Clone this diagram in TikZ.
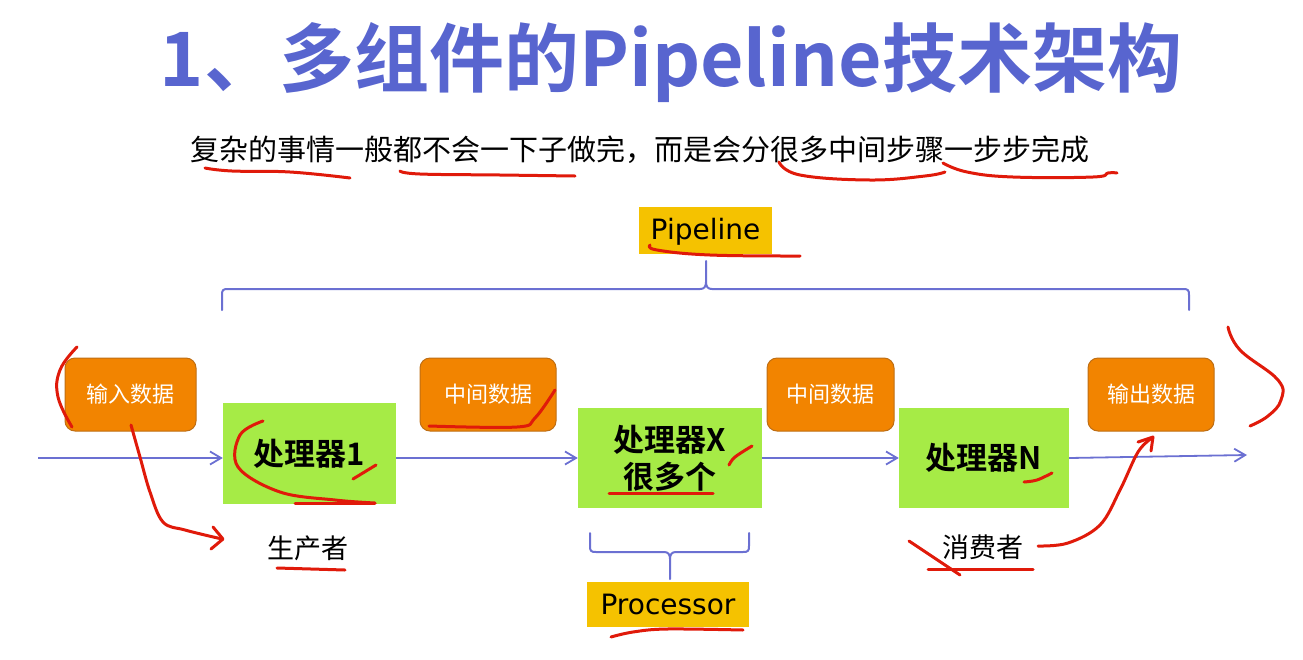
\documentclass[tikz,border=0pt]{standalone}
\usepackage{fontspec}
\setmainfont{Noto Sans CJK SC}[BoldFont={Noto Sans CJK SC Bold}]
\newfontfamily\labelfont{DejaVu Sans}
\usetikzlibrary{arrows.meta,calc}

\definecolor{titleblue}{HTML}{5865CF}
\definecolor{flowblue}{HTML}{6B70D2}
\definecolor{dataorange}{HTML}{F28400}
\definecolor{databorder}{HTML}{BE6E14}
\definecolor{procgreen}{HTML}{A6EB46}
\definecolor{tagyellow}{HTML}{F5C200}
\definecolor{penred}{HTML}{E01A0A}

\tikzset{
  databox/.style={draw=databorder, line width=1pt, fill=dataorange, rounded corners=10pt,
    text=white, font=\fontsize{22}{26}\selectfont, inner sep=0pt},
  procbox/.style={fill=procgreen, draw=none, inner sep=0pt, align=center,
    font=\fontsize{31}{37}\selectfont\bfseries},
  tagbox/.style={fill=tagyellow, draw=none, inner sep=0pt,
    font=\labelfont\fontsize{28}{32}\selectfont},
  rolelabel/.style={font=\fontsize{27}{30}\selectfont, inner sep=0pt},
  flow/.style={draw=flowblue, line width=1.8pt, -{Straight Barb[length=11pt,width=13pt,line width=1.8pt]}},
  brace/.style={draw=flowblue, line width=2pt, line cap=round},
  ink/.style={draw=penred, line width=3pt, line cap=round, line join=round},
}

\begin{document}
\begin{tikzpicture}[x=1pt, y=-1pt]
\useasboundingbox (0,0) rectangle (1303,659);

% heading and caption
\node[text=titleblue, font=\fontsize{75}{80}\selectfont\bfseries, inner sep=0pt] (title) at (671,63) {1、多组件的Pipeline技术架构};
\node[font=\fontsize{29}{32}\selectfont, inner sep=0pt] (caption) at (640,150) {复杂的事情一般都不会一下子做完，而是会分很多中间步骤一步步完成};

% labels above and below the chain
\node[tagbox, minimum width=133pt, minimum height=47pt, text depth=5pt] (pipeline) at (705.5,230.5) {\raisebox{0pt}[22pt][0pt]{Pipeline}};
\node[tagbox, minimum width=162pt, minimum height=45pt] (processor) at (668,604.5) {Processor};

% data boxes
\node[databox, minimum width=131pt, minimum height=73pt] (in)   at (130.5,394.5) {输入数据};
\node[databox, minimum width=136pt, minimum height=73pt] (mid1) at (488,394.5) {中间数据};
\node[databox, minimum width=127pt, minimum height=73pt] (mid2) at (830.5,394.5) {中间数据};
\node[databox, minimum width=126pt, minimum height=73pt] (out)  at (1151,394.5) {输出数据};

% processors
\node[procbox, minimum width=173pt, minimum height=101pt] (p1) at (309.5,453.5) {处理器1};
\node[procbox, minimum width=184pt, minimum height=100pt] (px) at (670,458) {处理器X\\很多个};
\node[procbox, minimum width=170pt, minimum height=100pt] (pn) at (984,458) {处理器N};

\node[rolelabel] (producer) at (308,548) {生产者};
\node[rolelabel] (consumer) at (983,547) {消费者};

% data flow
\coordinate (src) at (38,458);
\coordinate (sink) at (1247,455);
\draw[flow] (src) -- (src -| p1.west);
\draw[flow] (p1.east |- src) -- (px.west |- src);
\draw[flow] (px.east |- src) -- (pn.west |- src);
\draw[flow] (pn.east) -- (sink);

% brace spanning the whole pipeline
\draw[brace] (222,310) -- (222,295) .. controls (222,290) and (223,289) .. (228,289) -- (700,289)
  .. controls (704,289) and (706,287) .. (706,282) -- (706,261);
\draw[brace] (706,282) .. controls (706,287) and (708,289) .. (712,289) -- (1183,289)
  .. controls (1188,289) and (1189,290) .. (1189,295) -- (1189,310);

% brace under the middle processor
\draw[brace] (590,533) -- (590,546) .. controls (590,551) and (591,552) .. (596,552) -- (664,552)
  .. controls (668,552) and (670,554) .. (670,559) -- (670,579);
\draw[brace] (670,559) .. controls (670,554) and (672,552) .. (676,552) -- (743,552)
  .. controls (748,552) and (749,551) .. (749,546) -- (749,533);

% hand-drawn marks
\draw[ink] plot[smooth, tension=0.7] coordinates {(205,168) (232,171) (290,172) (350,178)};
\draw[ink] plot[smooth, tension=0.7] coordinates {(400,171) (420,174) (500,175) (575,176)};
\draw[ink] plot[smooth, tension=0.7] coordinates {(779,162) (800,175) (870,180) (925,176) (945,172)};
\draw[ink] plot[smooth, tension=0.7] coordinates {(943,163) (967,172) (1013,177) (1093,177) (1108,173) (1117,173)};
\draw[ink] plot[smooth, tension=0.7] coordinates {(650,245) (657,250) (710,255) (800,256)};

\draw[ink] plot[smooth, tension=0.7] coordinates {(77,347) (60,370) (58,397) (72,427)};
\draw[ink] plot[smooth, tension=0.6] coordinates {(131,425) (140,457) (150,492) (163,522) (185,530) (222,539)};
\draw[ink] (213,527) -- (223,539) -- (211,549);

\draw[ink] plot[smooth, tension=0.6] coordinates {(263,421) (240,435) (238,467) (280,492) (335,500) (375,503)};
\draw[ink] (295,503) -- (375,503);
\draw[ink] (353,479) -- (376,465);
\draw[ink] (277,568) -- (345,570);

\draw[ink] plot[smooth, tension=0.6] coordinates {(429,426) (517,427) (535,418) (555,390)};
\draw[ink] plot[smooth, tension=0.6] coordinates {(729,465) (735,457) (752,446)};
\draw[ink] (609,493) -- (713,493);
\draw[ink] plot[smooth, tension=0.6] coordinates {(611,637) (633,632) (667,629) (743,630)};

\draw[ink] plot[smooth, tension=0.6] coordinates {(1024,482) (1037,480) (1052,473)};
\draw[ink] (928,569) -- (1033,569);
\draw[ink] (909,541) -- (960,575);
\draw[ink] plot[smooth, tension=0.6] coordinates {(1038,546) (1068,543) (1100,525) (1120,490) (1138,452) (1152,438)};
\draw[ink] (1138,442) -- (1153,437) -- (1151,451);

\draw[ink] plot[smooth, tension=0.7] coordinates {(1228,327) (1240,350) (1278,380) (1281,400) (1268,416) (1250,426)};
\end{tikzpicture}
\end{document}
